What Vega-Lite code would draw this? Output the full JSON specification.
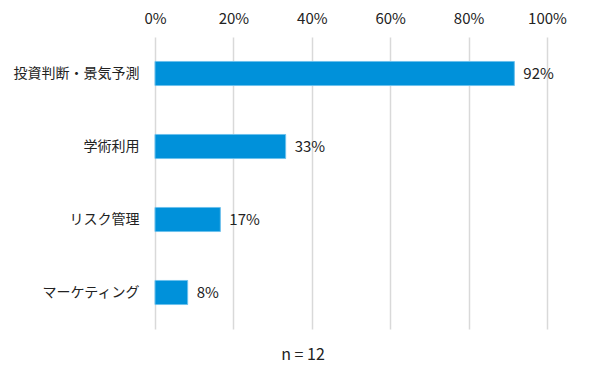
{
  "$schema": "https://vega.github.io/schema/vega-lite/v6.json",
  "width": 392,
  "height": 292,
  "autosize": {"type": "none"},
  "padding": {"left": 155, "top": 37, "right": 55, "bottom": 55},
  "background": "white",
  "config": {
    "font": "Noto Sans CJK JP",
    "view": {"stroke": null}
  },
  "title": {
    "text": "n = 12",
    "orient": "bottom",
    "anchor": "middle",
    "fontSize": 16,
    "fontWeight": "normal",
    "color": "#222222",
    "offset": 18,
    "dx": -48
  },
  "data": {
    "values": [
      {"category": "投資判断・景気予測", "value": 0.9167},
      {"category": "学術利用", "value": 0.3333},
      {"category": "リスク管理", "value": 0.1667},
      {"category": "マーケティング", "value": 0.0833}
    ]
  },
  "encoding": {
    "y": {
      "field": "category",
      "type": "nominal",
      "sort": null,
      "scale": {"paddingInner": 0.67, "paddingOuter": 0.335},
      "axis": {
        "title": null,
        "domain": false,
        "ticks": false,
        "labelFontSize": 14,
        "labelColor": "#222222",
        "labelPadding": 16
      }
    },
    "x": {
      "field": "value",
      "type": "quantitative",
      "scale": {"domain": [0, 1], "nice": false},
      "axis": {
        "orient": "top",
        "title": null,
        "format": ".0%",
        "values": [0, 0.2, 0.4, 0.6, 0.8, 1],
        "domain": false,
        "ticks": false,
        "labelFlush": false,
        "labelFontSize": 15,
        "labelColor": "#222222",
        "labelPadding": 11,
        "grid": true,
        "gridColor": "#D9D9D9",
        "gridWidth": 1.5
      }
    }
  },
  "layer": [
    {
      "mark": {"type": "bar", "color": "#0091DA", "stroke": "#6CC0EC", "strokeWidth": 1}
    },
    {
      "mark": {"type": "text", "align": "left", "baseline": "middle", "dx": 9, "fontSize": 15, "color": "#222222"},
      "encoding": {
        "text": {"field": "value", "type": "quantitative", "format": ".0%"}
      }
    }
  ]
}
